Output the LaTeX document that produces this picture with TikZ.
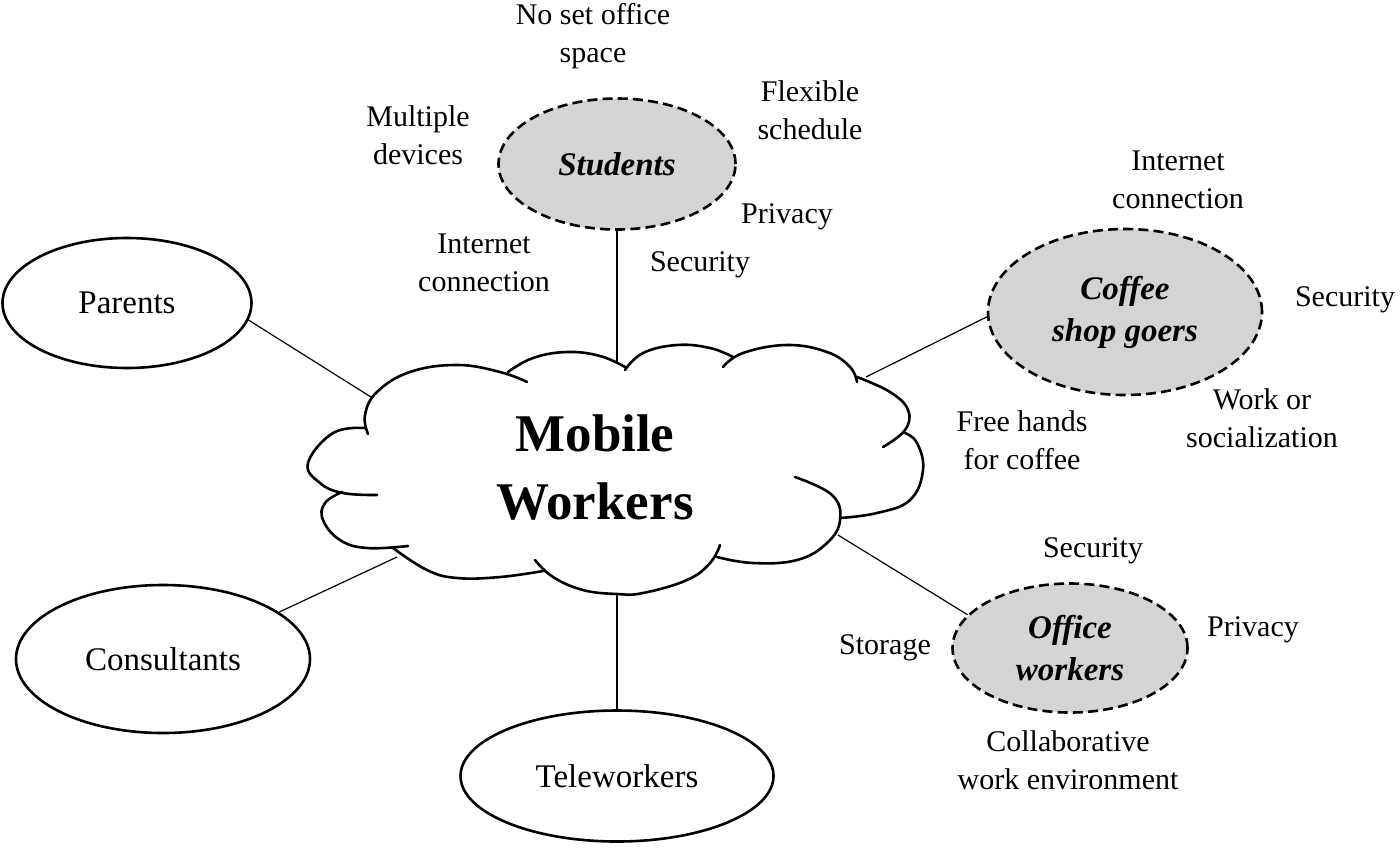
\documentclass[tikz,border=0pt]{standalone}
\usepackage{fontspec}
\setmainfont{Liberation Serif}
\usetikzlibrary{shapes.geometric}
\definecolor{fillgray}{RGB}{212,212,212}
\begin{document}
\begin{tikzpicture}[x=0.5pt,y=-0.5pt,
  solidell/.style={ellipse, draw, line width=1.3pt, inner sep=0pt, font=\fontsize{16.5}{20}\selectfont},
  dashell/.style={ellipse, draw, dash pattern=on 5pt off 2.6pt, line width=1.3pt, fill=fillgray, inner sep=0pt, align=center, font=\bfseries\itshape\fontsize{16.5}{21}\selectfont},
  lbl/.style={align=center, inner sep=0pt, font=\fontsize{15}{19}\selectfont},
  conn/.style={line width=0.6pt},
  lobe/.style={line width=1.3pt, line cap=round}]
\useasboundingbox (0,0) rectangle (1400,847);

% cloud
\draw[lobe] plot[smooth, tension=0.7] coordinates {(365,428) (333,433) (308,463) (320,483) (343,493) (377,495)};
\draw[lobe] plot[smooth, tension=0.7] coordinates {(342,492) (325,503) (323,520) (340,540) (367,548) (408,546)};
\draw[lobe] plot[smooth, tension=0.7] coordinates {(393,548) (427,570) (457,578) (500,577) (543,571)};
\draw[lobe] plot[smooth, tension=0.7] coordinates {(535,560) (553,577) (583,590) (617,594) (643,593) (687,580) (710,563) (720,545)};
\draw[lobe] plot[smooth, tension=0.7] coordinates {(717,557) (753,563) (797,560) (827,543) (840,520) (832,495) (795,477)};
\draw[lobe] plot[smooth, tension=0.7] coordinates {(840,518) (877,513) (910,500) (923,470) (917,443) (905,433)};
\draw[lobe] plot[smooth, tension=0.7] coordinates {(857,377) (890,392) (908,410) (905,430) (883,447)};
\draw[lobe] plot[smooth, tension=0.7] coordinates {(723,367) (743,353) (787,345) (827,352) (850,367) (857,382)};
\draw[lobe] plot[smooth, tension=0.7] coordinates {(625,370) (643,353) (677,345) (710,348) (733,357)};
\draw[lobe] plot[smooth, tension=0.7] coordinates {(508,372) (533,358) (567,352) (600,356) (625,367)};
\draw[lobe] plot[smooth, tension=0.7] coordinates {(527,382) (500,372) (457,365) (410,372) (377,392) (365,415) (368,434)};

\node[font=\bfseries\fontsize{26.5}{34}\selectfont, align=center, inner sep=0pt] (mw) at (595,467) {Mobile\\Workers};

% cloud attachment points
\coordinate (cT) at (617,362);
\coordinate (cB) at (617,594);
\coordinate (cP) at (371,397);
\coordinate (cC) at (397,557);
\coordinate (cF) at (866,377);
\coordinate (cO) at (838,535);

% nodes
\node[solidell, minimum width=124.5pt, minimum height=65pt] (parents) at (127,303) {Parents};
\node[solidell, minimum width=147pt, minimum height=74pt] (consultants) at (163,659) {Consultants};
\node[solidell, minimum width=156.5pt, minimum height=65.5pt] (teleworkers) at (617,776) {Teleworkers};
\node[dashell, minimum width=118.5pt, minimum height=65.5pt] (students) at (617,164) {Students};
\node[dashell, minimum width=137pt, minimum height=83pt] (coffee) at (1125,312) {Coffee\\shop goers};
\node[dashell, minimum width=117.5pt, minimum height=64.5pt] (office) at (1070,648) {Office\\workers};

% connectors
\draw[conn] (students.south) -- (cT);
\draw[conn] (teleworkers.north) -- (cB);
\draw[conn] (parents.-8) -- (cP);
\draw[conn] (consultants.22) -- (cC);
\draw[conn] (coffee.182) -- (cF);
\draw[conn] (office.162) -- (cO);

% labels
\node[lbl] (s1) at (593,36) {No set office\\space};
\node[lbl] (s2) at (418,135) {Multiple\\devices};
\node[lbl] (s3) at (810,110) {Flexible\\schedule};
\node[lbl] (s4) at (787,217) {Privacy};
\node[lbl] (s5) at (484,263) {Internet\\connection};
\node[lbl] (s6) at (700,265) {Security};
\node[lbl] (c1) at (1178,180) {Internet\\connection};
\node[lbl] (c2) at (1345,300) {Security};
\node[lbl] (c3) at (1022,440) {Free hands\\for coffee};
\node[lbl] (c4) at (1262,418) {Work or\\socialization};
\node[lbl] (o1) at (1093,551) {Security};
\node[lbl] (o2) at (885,648) {Storage};
\node[lbl] (o3) at (1253,630) {Privacy};
\node[lbl] (o4) at (1068,760) {Collaborative\\work environment};
\end{tikzpicture}
\end{document}
